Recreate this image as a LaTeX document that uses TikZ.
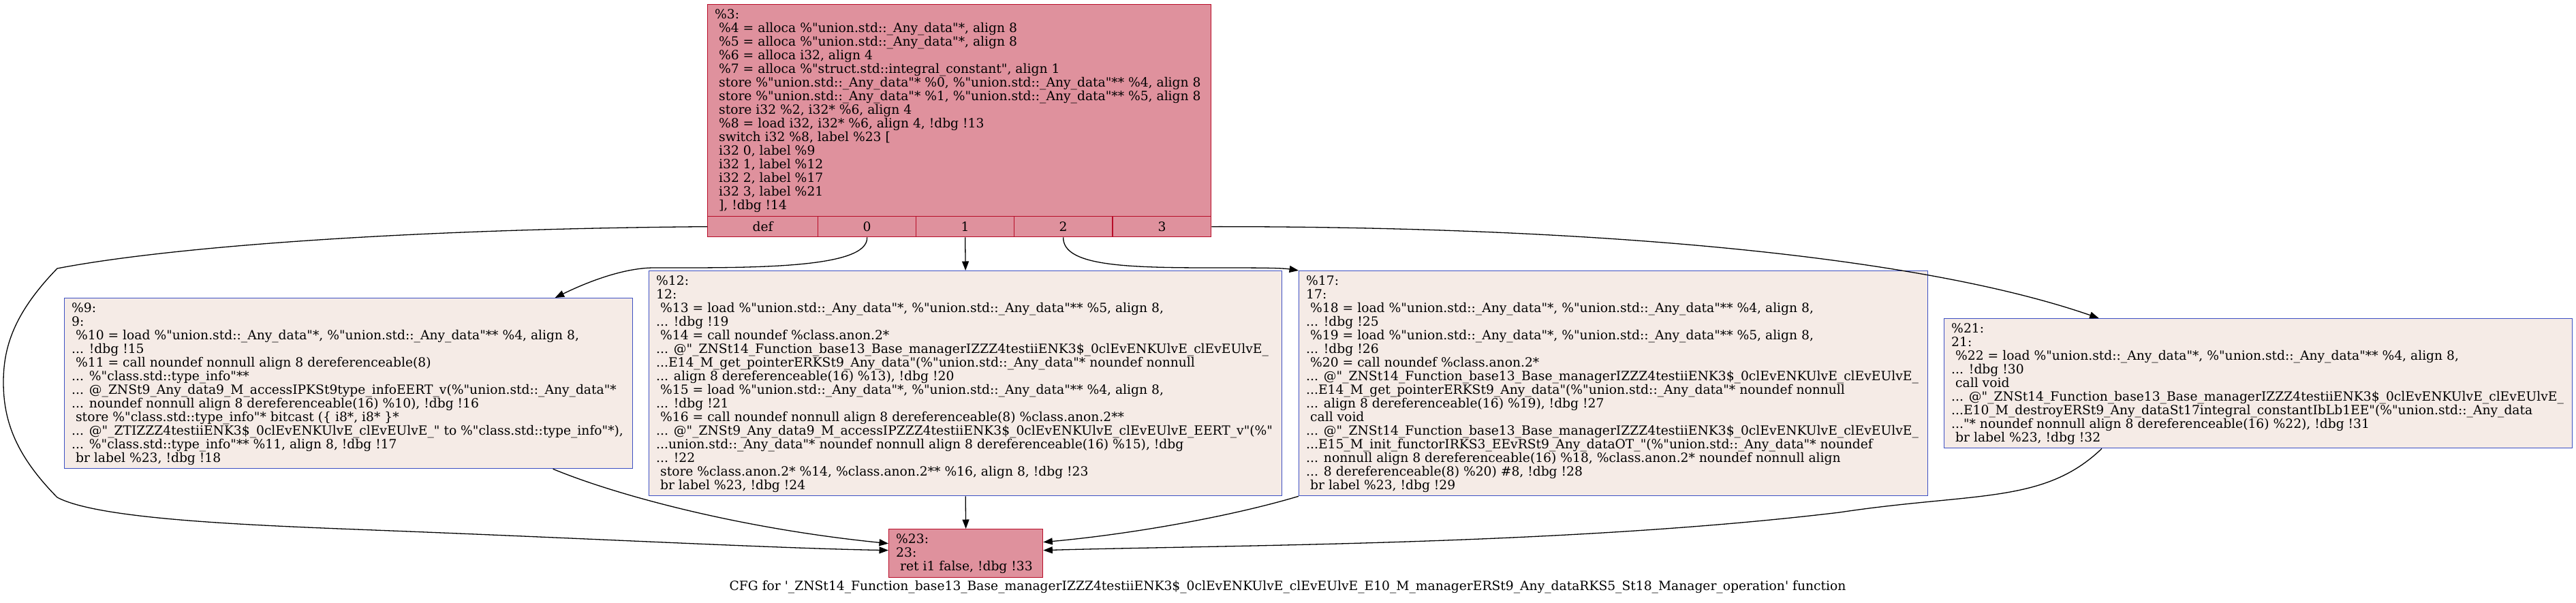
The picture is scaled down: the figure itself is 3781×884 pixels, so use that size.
\documentclass[tikz,border=0pt]{standalone}
\usepackage{fontspec}
\newfontfamily\gv{DejaVu Serif}
\usetikzlibrary{arrows.meta}
\newcommand\ind{\mbox{}\ }
\definecolor{redfill}{HTML}{DF919D}
\definecolor{redline}{HTML}{B70D28}
\definecolor{lightfill}{HTML}{F5EBE6}
\definecolor{blueline}{HTML}{3D50C3}
\begin{document}
\begin{tikzpicture}[x=1pt,y=-1pt,
  every node/.style={font=\gv\fontsize{18.7}{20}\selectfont},
  blk/.style={draw, line width=1.3pt, inner sep=0pt, anchor=north west},
  redblk/.style={blk, draw=redline, fill=redfill},
  blueblk/.style={blk, draw=blueline, fill=lightfill},
  code/.style={inner sep=0pt, anchor=north west, align=left},
  cfgedge/.style={draw, line width=1.3pt, -{Triangle[length=13.5pt,width=10pt]}}
]
\useasboundingbox[fill=white] (0,0) rectangle (3781,884);

% ---- block %3 ----
\node[redblk, minimum width=739pt, minimum height=311pt] (n3) at (1038,6) {};
\node[code] (t3) at (1049,13) {\rule{0pt}{14pt}\%3:\\
\ind\%4 = alloca \%"union.std::\_Any\_data"*, align 8\\
\ind\%5 = alloca \%"union.std::\_Any\_data"*, align 8\\
\ind\%6 = alloca i32, align 4\\
\ind\%7 = alloca \%"struct.std::integral\_constant", align 1\\
\ind store \%"union.std::\_Any\_data"* \%0, \%"union.std::\_Any\_data"** \%4, align 8\\
\ind store \%"union.std::\_Any\_data"* \%1, \%"union.std::\_Any\_data"** \%5, align 8\\
\ind store i32 \%2, i32* \%6, align 4\\
\ind\%8 = load i32, i32* \%6, align 4, !dbg !13\\
\ind switch i32 \%8, label \%23 [\\
\ind i32 0, label \%9\\
\ind i32 1, label \%12\\
\ind i32 2, label \%17\\
\ind i32 3, label \%21\\
\ind ], !dbg !14};
\node[redblk, minimum width=162pt, minimum height=30pt] (def) at (1038,317) {def};
\node[redblk, minimum width=144pt, minimum height=30pt] (c0) at (1200,317) {0};
\node[redblk, minimum width=144pt, minimum height=30pt] (c1) at (1344,317) {1};
\node[redblk, minimum width=144pt, minimum height=30pt] (c2) at (1488,317) {2};
\node[redblk, minimum width=144pt, minimum height=30pt] (c3) at (1633,317) {3};

% ---- block %9 ----
\node[blueblk, minimum width=834pt, minimum height=250pt] (n9) at (94,437) {};
\node[code] (t9) at (105,444) {\rule{0pt}{14pt}\%9:\\
9:\\
\ind\%10 = load \%"union.std::\_Any\_data"*, \%"union.std::\_Any\_data"** \%4, align 8,\\
... !dbg !15\\
\ind\%11 = call noundef nonnull align 8 dereferenceable(8)\\
... \%"class.std::type\_info"**\\
... @\_ZNSt9\_Any\_data9\_M\_accessIPKSt9type\_infoEERT\_v(\%"union.std::\_Any\_data"*\\
... noundef nonnull align 8 dereferenceable(16) \%10), !dbg !16\\
\ind store \%"class.std::type\_info"* bitcast (\{ i8*, i8* \}*\\
... @"\_ZTIZZZ4testiiENK3\$\_0clEvENKUlvE\_clEvEUlvE\_" to \%"class.std::type\_info"*),\\
... \%"class.std::type\_info"** \%11, align 8, !dbg !17\\
\ind br label \%23, !dbg !18};

% ---- block %12 ----
\node[blueblk, minimum width=929pt, minimum height=330pt] (n12) at (952,397) {};
\node[code] (t12) at (963,404) {\rule{0pt}{14pt}\%12:\\
12:\\
\ind\%13 = load \%"union.std::\_Any\_data"*, \%"union.std::\_Any\_data"** \%5, align 8,\\
... !dbg !19\\
\ind\%14 = call noundef \%class.anon.2*\\
... @"\_ZNSt14\_Function\_base13\_Base\_managerIZZZ4testiiENK3\$\_0clEvENKUlvE\_clEvEUlvE\_\\
...E14\_M\_get\_pointerERKSt9\_Any\_data"(\%"union.std::\_Any\_data"* noundef nonnull\\
... align 8 dereferenceable(16) \%13), !dbg !20\\
\ind\%15 = load \%"union.std::\_Any\_data"*, \%"union.std::\_Any\_data"** \%4, align 8,\\
... !dbg !21\\
\ind\%16 = call noundef nonnull align 8 dereferenceable(8) \%class.anon.2**\\
... @"\_ZNSt9\_Any\_data9\_M\_accessIPZZZ4testiiENK3\$\_0clEvENKUlvE\_clEvEUlvE\_EERT\_v"(\%"\\
...union.std::\_Any\_data"* noundef nonnull align 8 dereferenceable(16) \%15), !dbg\\
... !22\\
\ind store \%class.anon.2* \%14, \%class.anon.2** \%16, align 8, !dbg !23\\
\ind br label \%23, !dbg !24};

% ---- block %17 ----
\node[blueblk, minimum width=923pt, minimum height=330pt] (n17) at (1906,397) {};
\node[code] (t17) at (1917,404) {\rule{0pt}{14pt}\%17:\\
17:\\
\ind\%18 = load \%"union.std::\_Any\_data"*, \%"union.std::\_Any\_data"** \%4, align 8,\\
... !dbg !25\\
\ind\%19 = load \%"union.std::\_Any\_data"*, \%"union.std::\_Any\_data"** \%5, align 8,\\
... !dbg !26\\
\ind\%20 = call noundef \%class.anon.2*\\
... @"\_ZNSt14\_Function\_base13\_Base\_managerIZZZ4testiiENK3\$\_0clEvENKUlvE\_clEvEUlvE\_\\
...E14\_M\_get\_pointerERKSt9\_Any\_data"(\%"union.std::\_Any\_data"* noundef nonnull\\
... align 8 dereferenceable(16) \%19), !dbg !27\\
\ind call void\\
... @"\_ZNSt14\_Function\_base13\_Base\_managerIZZZ4testiiENK3\$\_0clEvENKUlvE\_clEvEUlvE\_\\
...E15\_M\_init\_functorIRKS3\_EEvRSt9\_Any\_dataOT\_"(\%"union.std::\_Any\_data"* noundef\\
... nonnull align 8 dereferenceable(16) \%18, \%class.anon.2* noundef nonnull align\\
... 8 dereferenceable(8) \%20) \#8, !dbg !28\\
\ind br label \%23, !dbg !29};

% ---- block %21 ----
\node[blueblk, minimum width=922pt, minimum height=190pt] (n21) at (2853,467) {};
\node[code] (t21) at (2864,474) {\rule{0pt}{14pt}\%21:\\
21:\\
\ind\%22 = load \%"union.std::\_Any\_data"*, \%"union.std::\_Any\_data"** \%4, align 8,\\
... !dbg !30\\
\ind call void\\
... @"\_ZNSt14\_Function\_base13\_Base\_managerIZZZ4testiiENK3\$\_0clEvENKUlvE\_clEvEUlvE\_\\
...E10\_M\_destroyERSt9\_Any\_dataSt17integral\_constantIbLb1EE"(\%"union.std::\_Any\_data\\
..."* noundef nonnull align 8 dereferenceable(16) \%22), !dbg !31\\
\ind br label \%23, !dbg !32};

% ---- block %23 ----
\node[redblk, minimum width=226pt, minimum height=71pt] (n23) at (1304,776) {};
\node[code] (t23) at (1315,783) {\rule{0pt}{14pt}\%23:\\
23:\\
\ind ret i1 false, !dbg !33};

% ---- caption ----
\node (cap) at (1890,862) {CFG for '\_ZNSt14\_Function\_base13\_Base\_managerIZZZ4testiiENK3\$\_0clEvENKUlvE\_clEvEUlvE\_E10\_M\_managerERSt9\_Any\_dataRKS5\_St18\_Manager\_operation' function};

% ---- edges ----
\path[cfgedge] (def.west) .. controls (600,336) and (250,362) .. (84,394)
  .. controls (20,460) and (5,510) .. (5,561)
  .. controls (5,620) and (25,670) .. (84,730)
  .. controls (150,765) and (400,772) .. (600,780)
  .. controls (900,792) and (1150,805) .. ([yshift=4.5pt]n23.west);
\path[cfgedge] (c0.south) .. controls (1275,395) and (1100,393) .. (960,393)
  .. controls (920,393) and (870,410) .. ([xshift=303pt]n9.north);
\path[cfgedge] (c1.south) -- (n12.north);
\path[cfgedge] (c2.south) .. controls (1560,390) and (1650,393) .. (1780,393)
  .. controls (1840,393) and (1880,393) .. (n17.north west);
\path[cfgedge] (c3.east) .. controls (2300,332) and (2800,370) .. ([xshift=-234pt]n21.north);
\path[cfgedge] ([xshift=300pt]n9.south) .. controls (900,725) and (1080,775) .. ([yshift=14.5pt]n23.west);
\path[cfgedge] (n12.south) -- (n23.north);
\path[cfgedge] (n17.south west) .. controls (1800,760) and (1650,785) .. ([yshift=16.5pt]n23.east);
\path[cfgedge] ([xshift=232pt]n21.south west) .. controls (3000,740) and (2900,722) .. (2700,752)
  .. controls (2300,800) and (1800,800) .. ([yshift=4.5pt]n23.east);
\end{tikzpicture}
\end{document}
